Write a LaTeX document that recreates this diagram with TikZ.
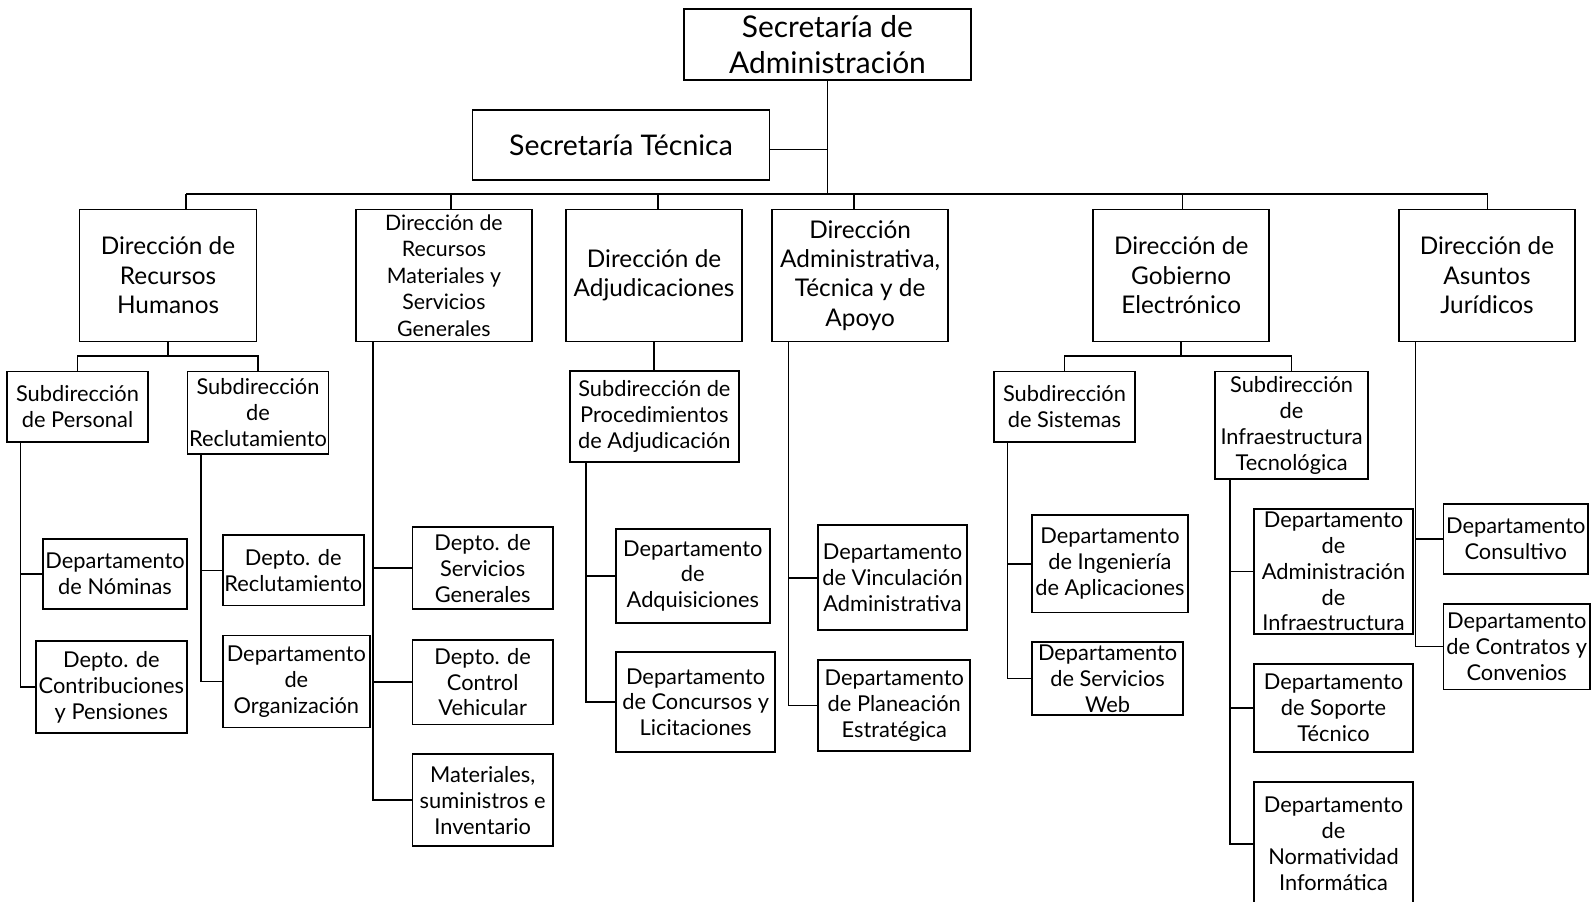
\documentclass[tikz,border=0pt]{standalone}
\usepackage{fontspec}
\setmainfont{Lato}
\begin{document}
\begin{tikzpicture}[x=1pt,y=-1pt,
  box/.style={draw,line width=1.8pt,align=center,inner sep=0pt},
  ftop/.style={font={\fontsize{29.5}{35}\selectfont}},
  fst/.style={font={\fontsize{28}{34}\selectfont}},
  fdir/.style={font={\fontsize{24}{29}\selectfont}},
  frm/.style={font={\fontsize{21}{26}\selectfont}},
  fsm/.style={font={\fontsize{21.5}{25.5}\selectfont}},
  conn/.style={line width=1.6pt},
]
\useasboundingbox (0,0) rectangle (1568,888);
% top
\node[box,ftop,minimum width=283.5pt,minimum height=69.6pt] (top) at (815.5,44) {Secretaría de\\Administración};
\node[box,fst,minimum width=292.7pt,minimum height=69pt] (st) at (612,142.9) {Secretaría Técnica};
% direcciones
\node[box,fdir,minimum width=174.5pt,minimum height=130pt] (rh) at (165.6,271.5) {Dirección de\\Recursos\\Humanos};
\node[box,frm,minimum width=174pt,minimum height=130pt] (rm) at (437.5,271.5) {Dirección de\\Recursos\\Materiales y\\Servicios\\Generales};
\node[box,fdir,minimum width=174pt,minimum height=130pt] (adj) at (644.6,271.5) {Dirección de\\Adjudicaciones};
\node[box,fdir,minimum width=173.4pt,minimum height=130pt] (adm) at (847.7,271.5) {Dirección\\Administrativa,\\Técnica y de\\Apoyo};
\node[box,fdir,minimum width=173.8pt,minimum height=130pt] (gob) at (1164.1,271.5) {Dirección de\\Gobierno\\Electrónico};
\node[box,fdir,minimum width=173pt,minimum height=130pt] (jur) at (1465.5,271.5) {Dirección de\\Asuntos\\Jurídicos};
% RH
\node[box,fsm,minimum width=138.7pt,minimum height=69.1pt] (sp) at (76.4,400.7) {Subdirección\\de Personal};
\node[box,fsm,minimum width=139pt,minimum height=81.1pt] (sr) at (254.3,406.7) {Subdirección\\de\\Reclutamiento};
\node[box,fsm,minimum width=141.5pt,minimum height=69.1pt] (nom) at (113.4,565.7) {Departamento\\de Nóminas};
\node[box,fsm,minimum width=148.9pt,minimum height=90.7pt] (contri) at (109.7,677.3) {Depto. de\\Contribuciones\\y Pensiones};
\node[box,fsm,minimum width=138.7pt,minimum height=69.1pt] (dr) at (289,562.2) {Depto. de\\Reclutamiento};
\node[box,fsm,minimum width=145pt,minimum height=90.7pt] (org) at (292.1,671.7) {Departamento\\de\\Organización};
% RM
\node[box,fsm,minimum width=138.4pt,minimum height=81.1pt] (sg) at (475.7,560) {Depto. de\\Servicios\\Generales};
\node[box,fsm,minimum width=138.4pt,minimum height=83.6pt] (cv) at (475.7,672.3) {Depto. de\\Control\\Vehicular};
\node[box,fsm,minimum width=138.4pt,minimum height=90.6pt] (mat) at (475.7,788.7) {Materiales,\\suministros e\\Inventario};
% Adj
\node[box,fsm,minimum width=166.3pt,minimum height=89.6pt] (spa) at (644.9,410.5) {Subdirección de\\Procedimientos\\de Adjudicación};
\node[box,fsm,minimum width=151.4pt,minimum height=92pt] (adq) at (682.8,567.6) {Departamento\\de\\Adquisiciones};
\node[box,fsm,minimum width=157pt,minimum height=98.7pt] (conc) at (685.6,692) {Departamento\\de Concursos y\\Licitaciones};
% Adm
\node[box,fsm,minimum width=146.8pt,minimum height=103.4pt] (vinc) at (879.6,569.4) {Departamento\\de Vinculación\\Administrativa};
\node[box,fsm,minimum width=150.1pt,minimum height=89.2pt] (plan) at (881.3,695.2) {Departamento\\de Planeación\\Estratégica};
% Gob
\node[box,fsm,minimum width=139pt,minimum height=69.1pt] (ss) at (1049.1,400.7) {Subdirección\\de Sistemas};
\node[box,fsm,minimum width=150.9pt,minimum height=105.8pt] (si) at (1272.9,419) {Subdirección\\de\\Infraestructura\\Tecnológica};
\node[box,fsm,minimum width=154pt,minimum height=96.2pt] (ing) at (1093.9,555.6) {Departamento\\de Ingeniería\\de Aplicaciones};
\node[box,fsm,minimum width=149.3pt,minimum height=71.9pt] (web) at (1091.6,668.7) {Departamento\\de Servicios\\Web};
\node[box,fsm,minimum width=157.5pt,minimum height=123.4pt] (ai) at (1314.2,563.2) {Departamento\\de\\Administración\\de\\Infraestructura};
\node[box,fsm,minimum width=157.5pt,minimum height=87.1pt] (sop) at (1314.2,697.8) {Departamento\\de Soporte\\Técnico};
\node[box,fsm,minimum width=157.5pt,minimum height=122.4pt] (norm) at (1314.2,831.8) {Departamento\\de\\Normatividad\\Informática};
% Jur
\node[box,fsm,minimum width=142.5pt,minimum height=68.7pt] (cons) at (1493.8,531) {Departamento\\Consultivo};
\node[box,fsm,minimum width=144.5pt,minimum height=84.6pt] (contr) at (1494.8,637.3) {Departamento\\de Contratos y\\Convenios};

% main bus
\coordinate (bus) at (815.5,191.5);
\coordinate (b1) at (183.5,191.5);
\coordinate (b2) at (444.5,191.5);
\coordinate (b3) at (648.6,191.5);
\coordinate (b4) at (841.7,191.5);
\coordinate (b5) at (1165.4,191.5);
\coordinate (b6) at (1466,191.5);
\draw[conn] (top.south) -- (bus);
\draw[conn] ([yshift=-4.6pt]st.east) -- ([yshift=-4.6pt]st.east -| top.south);
\draw[conn] (b1) -- (b6);
\foreach \b/\d in {b1/rh,b2/rm,b3/adj,b4/adm,b5/gob,b6/jur}
  \draw[conn] (\b) -- (\b |- \d.north);
% RH sub-bus
\coordinate (rhbus) at (165.6,351);
\draw[conn] (rh.south) -- (rhbus);
\draw[conn] (sp.north) |- (rhbus) -| (sr.north);
\draw[conn] ([xshift=14.1pt]sp.south west) |- (contri.west);
\draw[conn] ([xshift=14.1pt]sp.south west |- nom.west) -- (nom.west);
\draw[conn] ([xshift=14.1pt]sr.south west) |- (org.west);
\draw[conn] ([xshift=14.1pt]sr.south west |- dr.west) -- (dr.west);
% RM
\draw[conn] ([xshift=17.7pt]rm.south west) |- (mat.west);
\draw[conn] ([xshift=17.7pt]rm.south west |- sg.west) -- (sg.west);
\draw[conn] ([xshift=17.7pt]rm.south west |- cv.west) -- (cv.west);
% Adj
\draw[conn] (adj.south) -- (adj.south |- spa.north);
\draw[conn] ([xshift=16.5pt]spa.south west) |- (conc.west);
\draw[conn] ([xshift=16.5pt]spa.south west |- adq.west) -- (adq.west);
% Adm
\draw[conn] ([xshift=16.9pt]adm.south west) |- (plan.west);
\draw[conn] ([xshift=16.9pt]adm.south west |- vinc.west) -- (vinc.west);
% Gob
\coordinate (gobbus) at (1164.1,351);
\draw[conn] (gob.south) -- (gobbus);
\draw[conn] (ss.north) |- (gobbus) -| (si.north);
\draw[conn] ([xshift=14.2pt]ss.south west) |- (web.west);
\draw[conn] ([xshift=14.2pt]ss.south west |- ing.west) -- (ing.west);
\draw[conn] ([xshift=15.4pt]si.south west) |- (norm.west);
\draw[conn] ([xshift=15.4pt]si.south west |- ai.west) -- (ai.west);
\draw[conn] ([xshift=15.4pt]si.south west |- sop.west) -- (sop.west);
% Jur
\draw[conn] ([xshift=17pt]jur.south west) |- (contr.west);
\draw[conn] ([xshift=17pt]jur.south west |- cons.west) -- (cons.west);
\end{tikzpicture}
\end{document}
